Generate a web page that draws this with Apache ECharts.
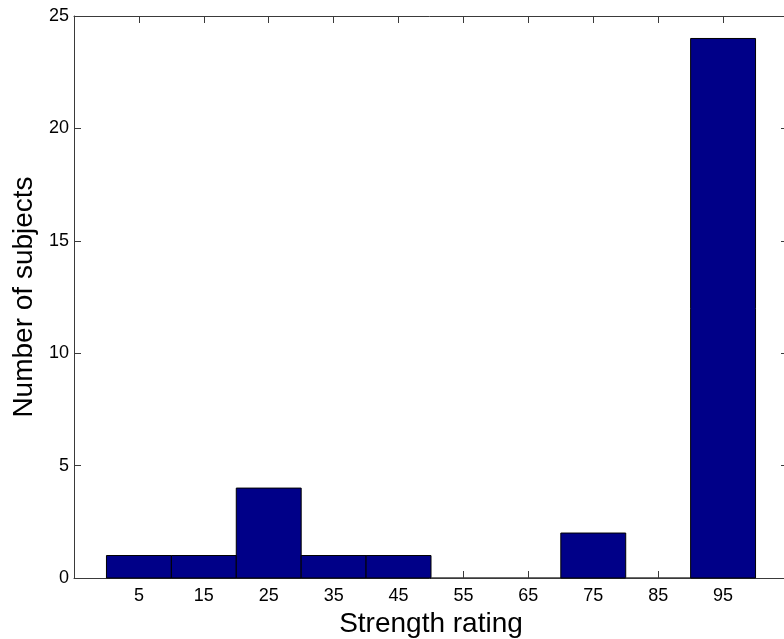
<!DOCTYPE html>
<html>
<head>
<meta charset="utf-8">
<script src="https://cdn.jsdelivr.net/npm/echarts@6/dist/echarts.min.js"></script>
<style>
html,body{margin:0;padding:0;background:#fff;}
#c{width:784px;height:639px;}
</style>
</head>
<body>
<div id="c"></div>
<script>
// Histogram data
var binStarts = [0, 10, 20, 30, 40, 50, 60, 70, 80, 90];
var binWidth = 10;
var counts = [1, 1, 4, 1, 1, 0, 0, 2, 0, 24];
var xTickLabels = ['5', '15', '25', '35', '45', '55', '65', '75', '85', '95'];
var yTicks = [0, 5, 10, 15, 20, 25];

var barData = binStarts.map(function (s, i) { return [s, s + binWidth, counts[i]]; });

var chart = echarts.init(document.getElementById('c'));
var axisColor = '#3a3a3a';
var font = 'Liberation Sans, Arial, Helvetica, sans-serif';

chart.setOption({
  animation: false,
  backgroundColor: '#ffffff',
  grid: { left: 74, top: 16, right: -4, bottom: 61, show: false, containLabel: false, outerBoundsMode: 'none' },
  xAxis: [{
    type: 'value', min: -5, max: 105, interval: 10,
    position: 'bottom',
    name: 'Strength rating', nameLocation: 'middle', nameGap: 26,
    nameTextStyle: { fontSize: 28, color: '#000', fontFamily: font },
    axisLine: { show: true, onZero: false, lineStyle: { color: axisColor, width: 1 } },
    axisTick: { show: true, inside: true, length: 7, lineStyle: { color: axisColor } },
    axisLabel: {
      show: true, margin: 9, fontSize: 18, color: '#000', fontFamily: font,
      showMinLabel: false, showMaxLabel: false,
      formatter: function (v) { var i = Math.round((v - 5) / 10); return (i >= 0 && i < xTickLabels.length) ? xTickLabels[i] : ''; }
    },
    splitLine: { show: false }
  }, {
    type: 'value', min: -5, max: 105, interval: 10,
    position: 'top',
    axisLine: { show: true, onZero: false, lineStyle: { color: axisColor, width: 1 } },
    axisTick: { show: true, inside: true, length: 7, lineStyle: { color: axisColor } },
    axisLabel: { show: false },
    splitLine: { show: false }
  }],
  yAxis: [{
    type: 'value', min: yTicks[0], max: yTicks[yTicks.length - 1], interval: 5,
    position: 'left',
    name: 'Number of subjects', nameLocation: 'middle', nameGap: 33,
    nameTextStyle: { fontSize: 28, color: '#000', fontFamily: font },
    axisLine: { show: true, onZero: false, lineStyle: { color: axisColor, width: 1 } },
    axisTick: { show: true, inside: true, length: 7, lineStyle: { color: axisColor } },
    axisLabel: { show: true, margin: 5, fontSize: 18, color: '#000', fontFamily: font },
    splitLine: { show: false }
  }, {
    type: 'value', min: yTicks[0], max: yTicks[yTicks.length - 1], interval: 5,
    position: 'right',
    axisLine: { show: true, onZero: false, lineStyle: { color: axisColor, width: 1 } },
    axisTick: { show: true, inside: true, length: 7, lineStyle: { color: axisColor } },
    axisLabel: { show: false },
    splitLine: { show: false }
  }],
  series: [{
    type: 'custom',
    xAxisIndex: 0, yAxisIndex: 0,
    data: barData,
    encode: { x: [0, 1], y: 2 },
    z: 5,
    renderItem: function (params, api) {
      var p0 = api.coord([api.value(0), api.value(2)]);
      var p1 = api.coord([api.value(1), 0]);
      var empty = api.value(2) === 0;
      return {
        type: 'rect',
        shape: { x: p0[0], y: p0[1], width: p1[0] - p0[0], height: p1[1] - p0[1] },
        style: { fill: '#000088', stroke: empty ? axisColor : '#000000', lineWidth: 1 }
      };
    }
  }]
});
</script>
</body>
</html>
